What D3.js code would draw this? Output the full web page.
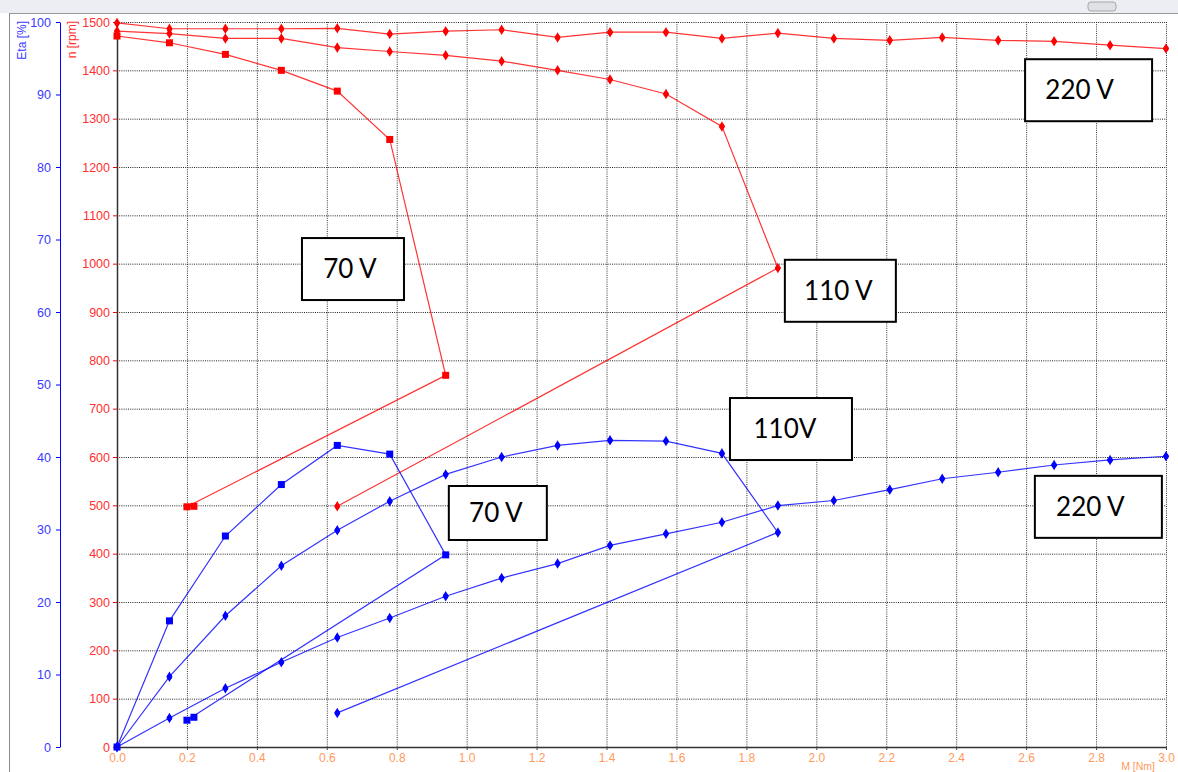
<!DOCTYPE html>
<html>
<head>
<meta charset="utf-8">
<title>Motor characteristic</title>
<script src="https://cdn.jsdelivr.net/npm/d3@7"></script>
<style>
  body { margin: 0; background: #fff; }
  svg { display: block; font-family: "Liberation Sans", Arial, sans-serif; }
</style>
</head>
<body>
<script>
// torque points of the measurement runs [Nm]
var torque220 = [0, 0.15, 0.31, 0.47, 0.63, 0.78, 0.94, 1.10, 1.26, 1.41, 1.57, 1.73, 1.89, 2.05, 2.21, 2.36, 2.52, 2.68, 2.84, 3.0];
var torque110 = [0, 0.15, 0.31, 0.47, 0.63, 0.78, 0.94, 1.10, 1.26, 1.41, 1.57, 1.73, 1.89, 0.63];
var torque70 = [0, 0.15, 0.31, 0.47, 0.63, 0.78, 0.94, 0.20, 0.22];

// speed n [rpm]
var speed220 = [1498, 1486, 1486, 1486, 1487, 1475, 1481, 1484, 1468, 1479, 1479, 1466, 1477, 1466, 1462, 1468, 1462, 1460, 1452, 1445];
var speed110 = [1481, 1476, 1466, 1466, 1447, 1439, 1431, 1419, 1400, 1381, 1351, 1284, 991, 498];
var speed70 = [1471, 1457, 1433, 1400, 1357, 1257, 769, 497, 498];

// efficiency Eta [%]
var eta220 = [0, 4.0, 8.1, 11.7, 15.1, 17.8, 20.8, 23.3, 25.3, 27.8, 29.4, 31.0, 33.3, 34.0, 35.5, 37.0, 37.9, 38.9, 39.6, 40.1];
var eta110 = [0, 9.7, 18.1, 25.0, 29.9, 33.9, 37.6, 40.0, 41.6, 42.3, 42.2, 40.5, 29.6, 4.7];
var eta70 = [0, 17.4, 29.1, 36.2, 41.6, 40.4, 26.5, 3.7, 4.1];

var xTicks = [0, 0.2, 0.4, 0.6, 0.8, 1.0, 1.2, 1.4, 1.6, 1.8, 2.0, 2.2, 2.4, 2.6, 2.8, 3.0];
var nTicks = [0, 100, 200, 300, 400, 500, 600, 700, 800, 900, 1000, 1100, 1200, 1300, 1400, 1500];
var etaTicks = [0, 10, 20, 30, 40, 50, 60, 70, 80, 90, 100];

// voltage labels: text, box corner in data units (M, n)
var labelText = ["220 V", "70 V", "110 V", "110V", "70 V", "220 V"];
var labelM = [2.597, 0.529, 1.910, 1.753, 0.949, 2.625];
var labelN = [1423, 1053, 1008, 722, 540, 561];

var W = 1178, H = 772;
var red = "#ff0000", blue = "#0000ff";

var svg = d3.select("body").append("svg")
    .attr("width", W)
    .attr("height", H);

// window chrome strip on top
svg.append("rect").attr("x", 0).attr("y", 0).attr("width", W).attr("height", 13).attr("fill", "#eceef3");
svg.append("line").attr("x1", 9).attr("x2", W).attr("y1", 13.5).attr("y2", 13.5).attr("stroke", "#9a9a9a");
svg.append("line").attr("x1", 9.5).attr("x2", 9.5).attr("y1", 13).attr("y2", H).attr("stroke", "#8a8a8a");
svg.append("rect").attr("x", 1088).attr("y", 2).attr("width", 28).attr("height", 9).attr("rx", 3)
    .attr("fill", "#dfe1e6").attr("stroke", "#a8a8a8");

var x = d3.scaleLinear().domain([0, 3]).range([117, 1166]);
var yN = d3.scaleLinear().domain([0, 1500]).range([747, 22]);
var yEta = d3.scaleLinear().domain([0, 100]).range([747, 22]);

// dotted grid
svg.append("g").selectAll("line").data(xTicks.slice(1)).join("line")
    .attr("x1", d => x(d) + 0.5).attr("x2", d => x(d) + 0.5)
    .attr("y1", yN(1500)).attr("y2", yN(0))
    .attr("stroke", "#333").attr("stroke-dasharray", "1,1.2");
svg.append("g").selectAll("line").data(nTicks.slice(1)).join("line")
    .attr("x1", x(0)).attr("x2", x(3))
    .attr("y1", d => yN(d) + 0.5).attr("y2", d => yN(d) + 0.5)
    .attr("stroke", "#222").attr("stroke-dasharray", "1,1.2");

// Eta axis (blue)
var etaAxis = svg.append("g")
    .attr("transform", "translate(60,0)")
    .call(d3.axisLeft(yEta).tickValues(etaTicks).tickFormat(d3.format("d")).tickSize(4).tickSizeOuter(0).tickPadding(5));
etaAxis.select(".domain").attr("stroke", blue);
etaAxis.selectAll(".tick line").attr("stroke", blue);
etaAxis.selectAll("text").attr("fill", "#3a3aff").style("font-size", "12.5px").style("font-family", "Liberation Sans, Arial");

// n axis (red labels, dark line)
var nAxis = svg.append("g")
    .attr("transform", "translate(117,0)")
    .call(d3.axisLeft(yN).tickValues(nTicks).tickFormat(d3.format("d")).tickSize(4).tickSizeOuter(0).tickPadding(3));
nAxis.select(".domain").attr("stroke", "#333").attr("stroke-width", 1.5);
nAxis.selectAll(".tick line").attr("stroke", red);
nAxis.selectAll("text").attr("fill", "#ff3030").style("font-size", "12.5px").style("font-family", "Liberation Sans, Arial");

// M axis (orange labels)
var mAxis = svg.append("g")
    .attr("transform", "translate(0,747)")
    .call(d3.axisBottom(x).tickValues(xTicks).tickFormat(d3.format(".1f")).tickSize(3).tickSizeOuter(0).tickPadding(3));
mAxis.select(".domain").attr("stroke", "#333").attr("stroke-width", 1.5);
mAxis.selectAll(".tick line").attr("stroke", "#444");
mAxis.selectAll("text").attr("fill", "#ff9a5c").style("font-size", "12px").style("font-family", "Liberation Sans, Arial");

// axis titles
svg.append("text")
    .attr("transform", "translate(26,21) rotate(-90)")
    .attr("text-anchor", "end")
    .attr("fill", "#3a3aff").style("font-size", "12px")
    .text("Eta [%]");
svg.append("text")
    .attr("transform", "translate(76,21) rotate(-90)")
    .attr("text-anchor", "end")
    .attr("fill", "#ff3030").style("font-size", "12px")
    .text("n [rpm]");
svg.append("text")
    .attr("x", 1155).attr("y", 770)
    .attr("text-anchor", "end")
    .attr("fill", "#ff9a5c").style("font-size", "10.5px")
    .text("M [Nm]");

function drawSeries(ms, vals, yScale, color, square) {
  var pts = ms.map((m, i) => [m, vals[i]]);
  var line = d3.line().x(d => x(d[0])).y(d => yScale(d[1]));
  var g = svg.append("g");
  g.append("path")
      .attr("d", line(pts))
      .attr("fill", "none")
      .attr("stroke", color)
      .attr("stroke-width", 1.2)
      .attr("stroke-opacity", 0.8);
  if (square) {
    g.selectAll("rect").data(pts).join("rect")
        .attr("x", d => x(d[0]) - 3.5).attr("y", d => yScale(d[1]) - 3.5)
        .attr("width", 7).attr("height", 7)
        .attr("fill", color);
  } else {
    g.selectAll("path.pt").data(pts).join("path")
        .attr("class", "pt")
        .attr("transform", d => "translate(" + x(d[0]) + "," + yScale(d[1]) + ")")
        .attr("d", d3.symbol().type(d3.symbolDiamond).size(32))
        .attr("fill", color);
    g.selectAll("circle").data(pts).join("circle")
        .attr("cx", d => x(d[0])).attr("cy", d => yScale(d[1]))
        .attr("r", 2.6)
        .attr("fill", color);
  }
}

drawSeries(torque220, speed220, yN, red, false);
drawSeries(torque110, speed110, yN, red, false);
drawSeries(torque70, speed70, yN, red, true);
drawSeries(torque220, eta220, yEta, blue, false);
drawSeries(torque110, eta110, yEta, blue, false);
drawSeries(torque70, eta70, yEta, blue, true);

// voltage label boxes
var boxW = [127, 102, 111, 122, 98, 127];
var boxH = [62, 62, 62, 62, 54, 62];
var textDx = [-9, -3, -2, -6, -2, -8];
labelText.forEach(function (t, i) {
  var bx = x(labelM[i]), by = yN(labelN[i]);
  svg.append("rect")
      .attr("x", bx).attr("y", by)
      .attr("width", boxW[i]).attr("height", boxH[i])
      .attr("fill", "#fff").attr("stroke", "#000").attr("stroke-width", 2);
  svg.append("text")
      .attr("x", bx + boxW[i] / 2 + textDx[i])
      .attr("y", by + boxH[i] / 2 + 9)
      .attr("text-anchor", "middle")
      .style("font-family", "Lato, 'Open Sans', sans-serif")
      .style("font-size", "26px")
      .attr("fill", "#000")
      .text(t);
});
</script>
</body>
</html>
